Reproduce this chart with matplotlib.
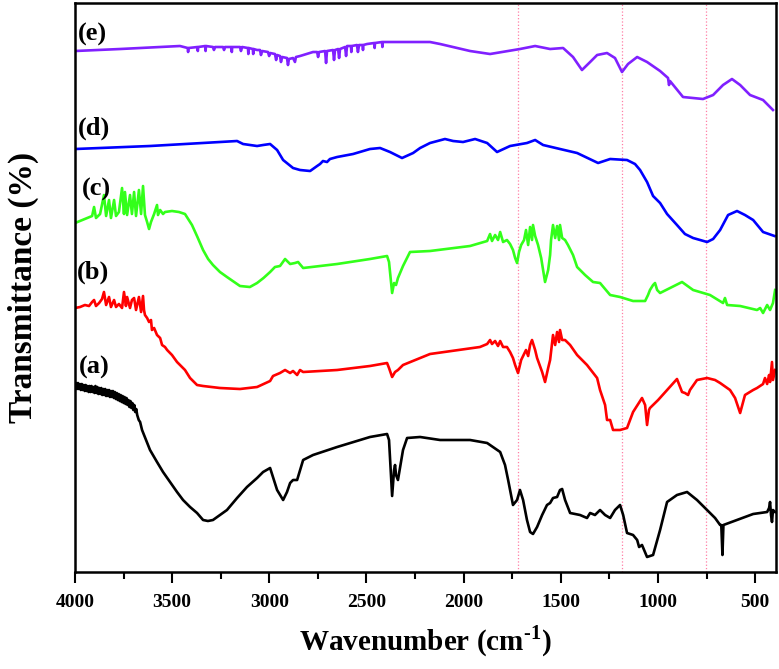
import numpy as np
import matplotlib
matplotlib.use("Agg")
import matplotlib.pyplot as plt
from matplotlib.ticker import MultipleLocator

plt.rcParams['font.family'] = ['Liberation Serif', 'DejaVu Serif']
plt.rcParams['font.weight'] = 'bold'
plt.rcParams['mathtext.fontset'] = 'custom'
plt.rcParams['mathtext.rm'] = 'Liberation Serif:bold'
plt.rcParams['mathtext.bf'] = 'Liberation Serif:bold'

# spectra: wavenumber (cm-1) and offset transmittance
wn_a = [4000, 3995, 3990, 3985, 3980, 3975, 3970, 3965, 3960, 3955, 3950,
        3945, 3940, 3935, 3930, 3925, 3920, 3915, 3910, 3905, 3900,
        3895, 3890, 3885, 3880, 3875, 3870, 3865, 3860, 3855, 3850,
        3845, 3840, 3835, 3830, 3825, 3820, 3815, 3810, 3805, 3800,
        3795, 3790, 3785, 3780, 3775, 3770, 3765, 3760, 3755, 3750,
        3745, 3740, 3735, 3730, 3725, 3720, 3715, 3710, 3705, 3700,
        3695, 3690, 3685, 3680, 3672, 3665, 3655,
        3614, 3578, 3547, 3511, 3475, 3444, 3408, 3372,
        3341, 3316, 3290, 3254, 3218, 3166, 3115, 3063,
        3032, 2996, 2960, 2929, 2909, 2893, 2878, 2857, 2826, 2775, 2651, 2482, 2394, 2384, 2368,
        2358, 2353, 2348, 2338, 2312, 2291, 2224, 2121, 1967, 1879, 1812, 1787, 1771, 1746, 1725,
        1710, 1694, 1674, 1658, 1643, 1622, 1596, 1571, 1555, 1540, 1519, 1504, 1493, 1478, 1452,
        1401, 1365, 1349, 1324, 1298, 1272, 1246, 1221, 1195, 1179, 1159, 1128, 1107, 1097, 1082,
        1056, 1025, 989, 953, 902, 850, 799, 747, 706, 680, 674, 668, 663, 593, 510, 438, 428, 423,
        418, 413, 408, 397]
tr_a = [186, 189, 183, 189, 183, 188, 182, 188, 182, 187, 181,
        187, 181, 186, 180, 186, 180, 186, 180, 185, 179,
        186, 179, 185, 178, 184, 178, 184, 177, 183, 177,
        183, 176, 182, 176, 182, 175, 181, 175, 181, 174,
        180, 173, 179, 172, 178, 171, 177, 170, 176, 169,
        175, 168, 174, 167, 172, 165, 171, 164, 169, 162,
        167, 160, 163, 157, 152, 150, 142,
        122, 110, 100, 90, 80, 72, 65, 59,
        52, 51, 52, 57, 62, 74, 85, 94,
        100, 104, 82, 72, 80, 89, 92, 92, 112, 117, 125, 135, 138, 132, 76,
        102, 107, 97, 92, 122, 134, 135, 132, 132, 129, 120, 107, 92, 67, 72,
        82, 72, 52, 40, 38, 45, 57, 67, 69, 74, 75, 82, 83, 72, 59,
        57, 54, 59, 57, 62, 57, 54, 62, 67, 57, 39, 37, 32, 25, 27,
        15, 17, 42, 70, 77, 80, 72, 62, 54, 47, 47, 17, 47, 52, 58, 60, 64, 70,
        57, 50, 62, 60]

wn_b = [4000, 3974, 3949, 3928, 3912, 3902, 3892, 3876, 3861, 3851, 3840, 3825, 3815, 3799, 3789,
        3774, 3758, 3748, 3738, 3732, 3717, 3707, 3696, 3686, 3671, 3660, 3650, 3645, 3640, 3629,
        3619, 3609, 3604, 3593, 3578, 3562, 3552, 3537, 3526, 3501, 3475, 3434, 3408, 3372, 3341,
        3254, 3151, 3063, 2996, 2981, 2945, 2919, 2893, 2878, 2857, 2842, 2826, 2651, 2482, 2394,
        2384, 2368, 2353, 2338, 2312, 2173, 1916, 1879, 1864, 1854, 1838, 1823, 1812, 1797, 1777,
        1761, 1746, 1735, 1720, 1704, 1694, 1679, 1668, 1658, 1648, 1632, 1622, 1596, 1581, 1565,
        1555, 1540, 1529, 1519, 1509, 1504, 1493, 1478, 1452, 1416, 1365, 1313, 1298, 1272, 1262,
        1246, 1231, 1195, 1159, 1128, 1082, 1066, 1056, 1046, 1041, 999, 953, 902, 876, 861,
        845, 835, 799, 747, 706, 680, 629, 603, 577, 552, 510, 490, 459, 449, 438,
        428, 423, 413, 408, 397]
tr_b = [264, 265, 267, 266, 270, 272, 266, 269, 273, 280, 267, 275, 265, 272, 265,
        268, 264, 280, 266, 275, 264, 272, 274, 262, 275, 260, 276, 262, 257, 254,
        250, 252, 242, 244, 237, 234, 227, 225, 222, 217, 210, 202, 194, 187, 186,
        184, 183, 185, 191, 196, 199, 202, 199, 201, 197, 202, 200, 202, 206, 209,
        204, 195, 200, 202, 207, 218, 225, 228, 232, 228, 231, 226, 231, 225, 225,
        220, 214, 207, 199, 212, 216, 222, 216, 227, 232, 222, 214, 200, 190, 204,
        212, 237, 227, 240, 230, 242, 232, 232, 227, 217, 207, 194, 182, 167, 152,
        152, 142, 142, 144, 160, 174, 167, 147, 162, 164, 172, 182, 193, 180, 179,
        177, 182, 192, 194, 192, 189, 182, 174, 159, 177, 182, 184, 188, 194, 188,
        197, 190, 210, 192, 202]

wn_c = [4000, 3949, 3912, 3902, 3892, 3871, 3851, 3840, 3825, 3815, 3799, 3789, 3774, 3758, 3748,
        3743, 3732, 3717, 3707, 3696, 3686, 3671, 3660, 3650, 3640, 3629, 3619, 3609, 3593, 3578,
        3573, 3562, 3547, 3537, 3501, 3465, 3434, 3398, 3370, 3341, 3315, 3290, 3254, 3218, 3151,
        3100, 3063, 3030, 2996, 2971,
        2945, 2919, 2893, 2868, 2852, 2826, 2651, 2482, 2394, 2384, 2368, 2358, 2348, 2338, 2312,
        2276, 2173, 1967, 1879, 1864, 1854, 1838, 1823, 1812, 1797, 1777, 1761, 1746, 1735, 1725,
        1715, 1704, 1689, 1679, 1668, 1658, 1648, 1643, 1632, 1617, 1601, 1591, 1581, 1565, 1555,
        1550, 1540, 1529, 1519, 1509, 1504, 1493, 1478, 1463, 1437, 1416, 1375, 1334, 1298, 1246,
        1195, 1128, 1066, 1051, 1041, 1025, 1015, 1004, 989, 938, 876, 819, 732, 665, 655,
        644, 577, 490, 474, 459, 438, 423, 408, 397]
tr_c = [349, 353, 356, 365, 354, 358, 377, 356, 372, 354, 372, 356, 360, 384, 358,
        380, 357, 377, 358, 380, 356, 382, 358, 386, 357, 350, 343, 350, 358, 367,
        357, 362, 358, 360, 361, 360, 358, 347, 335, 322, 313, 307, 300, 295, 286,
        285, 289, 294, 300, 305,
        306, 313, 308, 309, 310, 304, 308, 313, 316, 310, 279, 289, 287, 294, 306,
        320, 321, 326, 331, 338, 331, 337, 332, 340, 330, 332, 328, 322, 314, 309,
        320, 327, 332, 342, 327, 345, 332, 347, 336, 327, 314, 302, 290, 302, 317,
        332, 347, 334, 346, 332, 347, 334, 332, 327, 317, 305, 297, 290, 289, 277,
        275, 271, 271, 277, 282, 287, 289, 282, 279, 284, 290, 282, 277, 269, 274,
        267, 266, 262, 264, 259, 267, 262, 269, 282]

wn_d = [4000, 3614, 3254, 3166, 3135, 3063, 3032, 2996, 2960, 2929, 2878, 2842, 2790, 2754, 2739,
        2724, 2703, 2688, 2651, 2569, 2482, 2430, 2379, 2317, 2260, 2224, 2173, 2096, 2054, 2003,
        1941, 1879, 1828, 1761, 1674, 1632, 1591, 1504, 1416, 1308, 1246, 1159, 1118, 1092, 1056,
        1025, 989, 953, 902, 861, 819, 783, 747, 716, 680, 639, 593, 552, 510, 459, 400]
tr_d = [423, 426, 430, 431, 428, 426, 427, 428, 422, 412, 404, 402, 401, 406, 408,
        411, 410, 413, 415, 418, 423, 424, 420, 414, 419, 424, 429, 433, 431, 430,
        433, 429, 420, 426, 429, 432, 427, 423, 419, 409, 413, 412, 408, 402, 390,
        376, 369, 358, 347, 338, 334, 332, 330, 333, 342, 357, 361, 357, 352, 340, 336]

wn_e = [4000, 3768, 3460, 3420, 3418, 3416, 3370, 3368, 3366, 3330, 3328, 3326,
        3290, 3285, 3279, 3238, 3233, 3228, 3195, 3193, 3191, 3151, 3146, 3140,
        3110, 3108, 3106, 3085, 3083, 3081, 3063, 3048, 3043, 3037, 3007, 3001, 2996,
        2971, 2965, 2960, 2945, 2940, 2934, 2909, 2904, 2899, 2878, 2868, 2863, 2842, 2775,
        2754, 2749, 2744, 2713, 2708, 2703, 2672, 2667, 2662, 2646, 2641, 2636,
        2610, 2605, 2600, 2580, 2578, 2576, 2549, 2544, 2538, 2520, 2518, 2516, 2497,
        2460, 2458, 2456, 2420, 2418, 2416, 2363, 2173,
        2121, 1967, 1864, 1710, 1632, 1555, 1488, 1437, 1391, 1349, 1313, 1262, 1221, 1185,
        1154, 1107, 1056, 989, 948, 943, 938, 871, 768, 716, 665, 619, 577, 526, 459, 408]
tr_e = [521, 523, 526, 524, 520, 524, 525, 521, 525, 526, 521, 526,
        525, 522, 525, 525, 522, 525, 525, 520, 525, 525, 521, 525,
        524, 518, 524, 523, 518, 523, 522, 522, 517, 521, 520, 516, 519,
        518, 512, 517, 516, 510, 515, 514, 507, 513, 514, 510, 515, 516, 520,
        520, 515, 520, 521, 509, 521, 522, 512, 522, 523, 514, 523,
        525, 516, 526, 526, 520, 526, 527, 520, 527, 527, 522, 527, 528,
        529, 524, 529, 530, 525, 530, 530, 530,
        528, 521, 518, 523, 526, 523, 524, 515, 502, 510, 517, 519, 514, 500,
        508, 515, 510, 501, 494, 487, 491, 475, 473, 477, 487, 493, 487, 477, 472, 462]

series = [(wn_a, tr_a, 'black'), (wn_b, tr_b, '#ff0000'), (wn_c, tr_c, '#33ff1a'),
          (wn_d, tr_d, '#0000ff'), (wn_e, tr_e, '#8020ff')]
labels = ['(a)', '(b)', '(c)', '(d)', '(e)']
label_wn = [3980, 3990, 3964, 3985, 3985]
label_tr = [205, 300, 383, 444, 538]
marker_lines = [1720, 1185, 752]

fig = plt.figure(figsize=(7.79, 6.69), dpi=100)
ax = fig.add_axes([0.0963, 0.145, 0.8997, 0.8505])

for x in marker_lines:
    ax.axvline(x, color='#ff7fa5', lw=0.9, ls=':', zorder=1)

for wn, tr, col in series:
    ax.plot(wn, tr, color=col, lw=1.9, zorder=2)

for lab, x, y in zip(labels, label_wn, label_tr):
    ax.text(x, y, lab, fontsize=19, fontweight='bold', ha='left', va='center')

ax.set_xlim(4000, 393)
ax.set_ylim(0, 569)
ax.xaxis.set_major_locator(MultipleLocator(500))
ax.xaxis.set_minor_locator(MultipleLocator(250))
ax.set_yticks([])
ax.tick_params(axis='x', which='major', direction='out', length=8, width=1.5,
               labelsize=14, pad=8, top=False)
ax.tick_params(axis='x', which='minor', direction='out', length=5, width=1.5, top=False)
for lab in ax.get_xticklabels():
    lab.set_fontweight('bold')
for s in ax.spines.values():
    s.set_linewidth(1.8)

ax.set_xlabel(r'Wavenumber (cm$^{\text{-}\mathrm{1}}$)', fontsize=21, fontweight='bold', labelpad=9)
ax.set_ylabel('Transmittance (%)', fontsize=24, fontweight='bold', labelpad=26)

fig.savefig('out.png', dpi=100)
